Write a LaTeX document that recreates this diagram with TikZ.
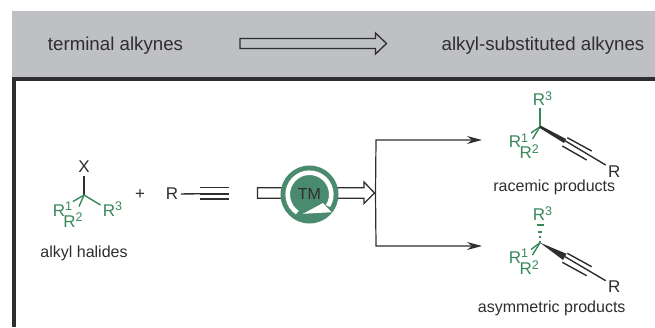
\documentclass[tikz,border=0pt]{standalone}
\usepackage{fontspec}
\setmainfont{Liberation Sans}
\usetikzlibrary{arrows.meta}
\definecolor{hdr}{HTML}{BFC0C3}
\definecolor{ink}{HTML}{2E2E30}
\definecolor{chem}{HTML}{37885A}
\definecolor{cat}{HTML}{4A8A6E}
\newcommand{\Rs}[1]{R\rlap{\smash{\raisebox{5.5pt}{\fontsize{12.5}{13}\selectfont#1}}}}
\tikzset{
  x=1pt,y=-1pt,
  lbl/.style={inner sep=0pt,text=ink,font=\fontsize{16}{18}\selectfont},
  hlbl/.style={inner sep=0pt,text=ink,font=\fontsize{18.7}{20}\selectfont,anchor=base},
  grp/.style={inner sep=0pt,text=chem,font=\fontsize{17}{18}\selectfont},
  atom/.style={inner sep=0pt,text=ink,font=\fontsize{17}{18}\selectfont},
  bond/.style={draw=ink,line width=1.4pt},
  gbond/.style={draw=chem,line width=1.4pt},
  conn/.style={draw=ink,line width=1.2pt},
  blockarrow/.style={draw=ink,line width=1.3pt,line join=miter},
  tiparrow/.style={conn,-{Stealth[length=15pt,width=8pt,inset=5pt]}},
}
\begin{document}
\begin{tikzpicture}
\useasboundingbox (0,0) rectangle (655,327);
% header band and frame
\fill[hdr] (12,11) rectangle (655,77);
\fill[ink] (11.6,77) rectangle (655,81);
\fill[ink] (11.6,77) rectangle (15.6,327);
\node[hlbl] (t1) at (115.5,50.7) {terminal alkynes};
\node[hlbl] (t2) at (543,50.7) {alkyl-substituted alkynes};
\draw[blockarrow] (240,38.5) -- (375.5,38.5) -- (375.5,33) -- (386.5,43.5) -- (375.5,54) -- (375.5,48.5) -- (240,48.5) -- cycle;
% alkyl halide
\coordinate (c0) at (84,195);
\node[atom] (x0) at (84,167) {X};
\node[grp] (r01) at (59,210.5) {\Rs{1}};
\node[grp] (r02) at (69.5,221.5) {\Rs{2}};
\node[grp] (r03) at (109,210.5) {\Rs{3}};
\draw[bond] (c0) -- (84,176);
\draw[gbond] (c0) -- (100.5,205);
\draw[gbond] (c0) -- (73,201.5);
\draw[gbond] (c0) -- (79,206.5);
\node[lbl] (ah) at (84,257) [anchor=base] {alkyl halides};
\node[atom] (plus) at (140,195) {+};
% alkyne
\node[atom] (r1) at (172,194) {R};
\coordinate (a0) at (200,193.7);
\draw[bond] (r1.east)+(2.5,0) -- (a0);
\draw[draw=ink,line width=1.6pt] (200,187.6) -- (229,187.6) (200,193.7) -- (229,193.7) (200,199) -- (229,199);
% catalyst arrow
\draw[blockarrow,fill=white] (257.5,187.7) -- (364,187.7) -- (364,182) -- (374.5,193) -- (364,203.5) -- (364,198.3) -- (257.5,198.3) -- cycle;
\coordinate (tip) at (375.5,193);
\fill[cat] (309.5,194.5) circle[radius=29];
\draw[white,line width=4.6pt] (309.5,194.5) ++(32:21.8) arc[start angle=32,end angle=-236,radius=21.8];
\fill[white] (303,213.8) -- (323,203) -- (331.5,212.2) -- cycle;
\node[font=\fontsize{16}{18}\selectfont,text=ink,inner sep=0pt] (tm) at (309.5,194) {TM};
% branching connector
\coordinate (e1) at (482,140);
\coordinate (e2) at (482,246);
\draw[tiparrow] (tip) -- (376,140) -- (e1);
\draw[tiparrow] (tip) -- (376,246) -- (e2);
% racemic product
\coordinate (c1) at (540,126.7);
\coordinate (w1) at (565,140.7);
\coordinate (e3) at (605.7,165);
\node[grp] (p13) at (539,100) {\Rs{3}};
\node[grp] (p11) at (515,141.7) {\Rs{1}};
\node[grp] (p12) at (525.7,152.7) {\Rs{2}};
\node[atom] (p1r) at (614.3,171.7) {R};
\draw[gbond] (c1) -- (540,108);
\draw[gbond] (c1) -- (531,133);
\draw[gbond] (c1) -- (532.5,139);
\fill[ink] (540.6,125.6) -- (566,139) -- (564,143) -- (539.4,127.8) -- cycle;
\draw[bond] (w1) -- (e3);
\draw[bond] (567.3,137.7) -- (591.7,151) (562.3,146) -- (586.7,160);
\node[lbl,anchor=base] (l1) at (554.3,191.7) {racemic products};
% asymmetric product
\coordinate (c2) at (540,242.7);
\coordinate (w2) at (565,256.7);
\coordinate (e4) at (605.7,280.7);
\node[grp] (p23) at (539,215) {\Rs{3}};
\node[grp] (p21) at (515,257.3) {\Rs{1}};
\node[grp] (p22) at (525.7,269) {\Rs{2}};
\node[atom] (p2r) at (614.3,286.7) {R};
\draw[gbond] (c2) -- (531,249.5);
\draw[gbond] (c2) -- (532.5,255);
\fill[chem] (539.4,241) rectangle (540.6,243);
\fill[chem] (538.8,236) rectangle (541.2,238);
\fill[chem] (538.2,230.5) rectangle (541.8,232.8);
\fill[chem] (536.5,223.6) rectangle (543.5,225.8);
\fill[ink] (c2) -- (563,260) -- (566.5,253.8) -- cycle;
\draw[bond] (w2) -- (e4);
\draw[bond] (567.3,253.3) -- (591.7,266.7) (562.3,262.3) -- (586.7,275.7);
\node[lbl,anchor=base] (l2) at (551.7,312.7) {asymmetric products};
\end{tikzpicture}
\end{document}
